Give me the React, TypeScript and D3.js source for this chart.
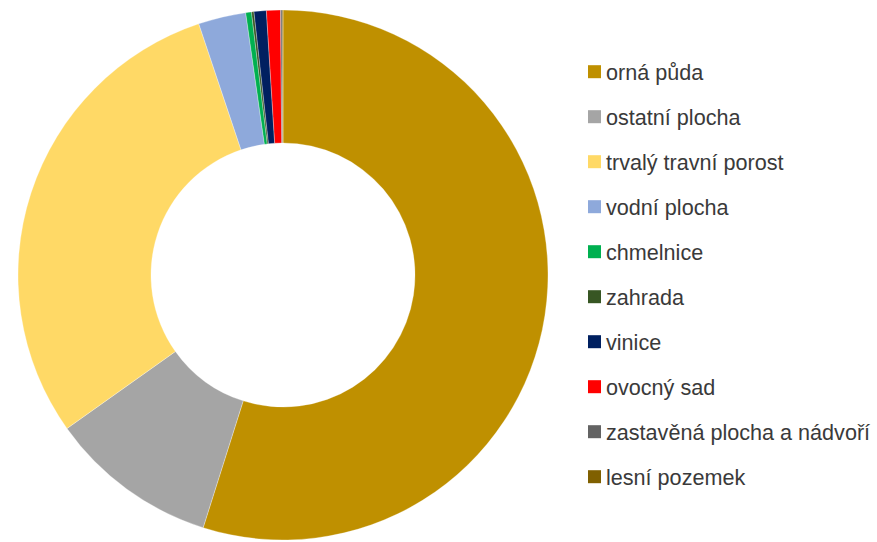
import React from "react";
import * as d3 from "d3";

const categories = [
  "orná půda",
  "ostatní plocha",
  "trvalý travní porost",
  "vodní plocha",
  "chmelnice",
  "zahrada",
  "vinice",
  "ovocný sad",
  "zastavěná plocha a nádvoří",
  "lesní pozemek",
];
const values = [54.9, 10.3, 29.7, 2.9, 0.35, 0.15, 0.75, 0.85, 0.1, 0.05];
const colors = [
  "#BF9000",
  "#A5A5A5",
  "#FFD966",
  "#8EA9DB",
  "#00B050",
  "#375623",
  "#002060",
  "#FF0000",
  "#636363",
  "#806000",
];

export default function App() {
  const W = 877;
  const H = 542;
  const cx = 283;
  const cy = 275;
  const R = 265;
  const r = 132;
  const pie = d3.pie<number>().sort(null).value((d) => d);
  const arcs = pie(values);
  const arc = d3.arc<d3.PieArcDatum<number>>().innerRadius(r).outerRadius(R);
  const legendY = d3.scalePoint<string>().domain(categories).range([71.7, 71.7 + 45 * 9]);

  return (
    <svg
      width={W}
      height={H}
      style={{ position: "absolute", left: 0, top: 0, background: "#fff" }}
    >
      <g transform={`translate(${cx},${cy})`}>
        {arcs.map((a, i) => (
          <path key={i} d={arc(a) || ""} fill={colors[i]} stroke="#fff" strokeWidth={0.3} />
        ))}
      </g>
      <g fontFamily="'Liberation Sans', Arial, sans-serif" fontSize={21.6} fill="#3a3a3a">
        {categories.map((c, i) => (
          <g key={c} transform={`translate(0,${legendY(c)})`}>
            <rect x={588} y={-6.5} width={13} height={13} fill={colors[i]} />
            <text x={606} y={1} dominantBaseline="central">
              {c}
            </text>
          </g>
        ))}
      </g>
    </svg>
  );
}
